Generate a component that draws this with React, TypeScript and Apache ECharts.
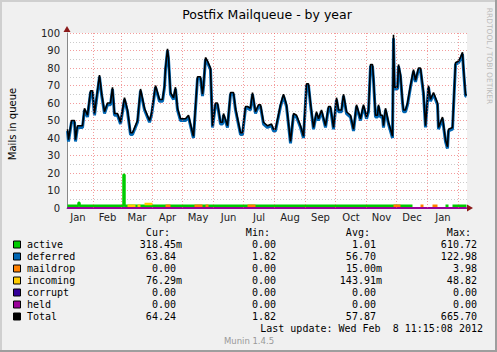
import React, { useEffect, useRef } from "react";
import * as echarts from "echarts";

// ---- data (x = day of year 2011, Jan 1 = 0) ----
const days = [
  5, 6, 9, 12, 13, 15, 20, 22, 25, 28,
  30, 32, 37, 39, 42, 45, 48, 50, 52, 55,
  58, 62, 65, 68, 70, 75, 78, 82, 87, 89,
  93, 97, 100, 102, 103, 105, 106, 108, 111, 113,
  115, 118, 123, 126, 130, 131, 135, 138, 140, 141,
  143, 145, 148, 150, 153, 155, 158, 160, 161, 165,
  168, 171, 173, 178, 180, 183, 185, 188, 190, 193,
  196, 198, 201, 205, 209, 211, 213, 218, 221, 224,
  228, 231, 234, 238, 241, 244, 246, 248, 251, 254,
  256, 259, 263, 266, 268, 271, 274, 276, 279, 281,
  284, 288, 291, 294, 298, 301, 304, 306, 308, 310,
  311, 313, 315, 316, 318, 320, 321, 323, 326, 330,
  331, 332, 335, 336, 338, 340, 341, 343, 345, 348,
  351, 353, 356, 358, 361, 363, 366, 368, 371, 375,
  376, 380, 383, 385, 386, 390, 393, 396, 398, 400,
  401, 403, 404,
];

const totalValues = [
  45, 39, 50, 50, 39, 47, 47, 57, 53, 67,
  67, 54, 76, 66, 55, 60, 60, 69, 54, 54,
  49, 63, 56, 43, 43, 50, 68, 57, 50, 54,
  70, 62, 62, 70, 80, 91, 86, 66, 63, 69,
  57, 51, 51, 53, 43, 41, 75, 75, 65, 70,
  86, 84, 80, 47, 60, 60, 49, 49, 54, 47,
  66, 66, 57, 43, 43, 58, 58, 57, 66, 55,
  59, 59, 49, 47, 48, 45, 45, 59, 65, 59,
  38, 54, 53, 47, 41, 71, 71, 60, 46, 55,
  51, 56, 47, 58, 58, 46, 63, 56, 56, 65,
  55, 53, 45, 59, 51, 59, 52, 56, 82, 82,
  74, 53, 53, 59, 53, 53, 47, 57, 49, 41,
  99, 69, 69, 82, 76, 61, 56, 56, 60, 70,
  79, 73, 80, 80, 66, 47, 70, 62, 66, 60,
  46, 52, 39, 35, 45, 46, 83, 84, 86, 89,
  80, 65, 64.24,
];

const deferredValues = [
  44, 38, 49, 49, 38, 46, 46, 56, 52, 66,
  66, 53, 75, 65, 54, 59, 59, 68, 53, 53,
  48, 62, 55, 42, 42, 49, 67, 56, 49, 53,
  69, 61, 61, 69, 79, 90, 85, 65, 62, 68,
  56, 50, 50, 52, 42, 40, 74, 74, 64, 69,
  85, 83, 79, 46, 59, 59, 48, 48, 53, 46,
  65, 65, 56, 42, 42, 57, 57, 56, 65, 54,
  58, 58, 48, 46, 47, 44, 44, 58, 64, 58,
  37, 53, 52, 46, 40, 70, 70, 59, 45, 54,
  50, 55, 46, 57, 57, 45, 62, 55, 55, 64,
  54, 52, 44, 58, 50, 58, 51, 55, 81, 81,
  73, 52, 52, 58, 52, 52, 46, 56, 48, 40,
  97, 68, 68, 81, 75, 60, 55, 55, 59, 69,
  78, 72, 79, 79, 65, 46, 69, 61, 65, 59,
  45, 51, 38, 34, 44, 45, 82, 83, 85, 88,
  79, 64, 63.84,
];

const activePoints: any[] = [
  [5, 1.3], [16, 1.3], [16, 3], [17, 3], [17, 1.3], [61, 1.3], [61, 19], [62, 19], [62, 1.3],
  [350, 1.3], [351, "-"], [383, 1.3], [386, 1.3], [387, "-"], [390, 1.3], [404, 1.3],
];
const incomingPoints: any[] = [
  [65, 1.3], [73, 1.3], [74, "-"], [75, 1.3], [78, 1.3], [80, "-"], [82, 2.3], [90, 2.3],
];
const maildropPoints: any[] = [
  [103, 1.3], [108, 1.3], [110, "-"], [132, 1.3], [140, 1.3], [141, "-"], [143, 1.3], [146, 1.3],
  [150, "-"], [185, 1.3], [193, 1.3], [200, "-"], [331, 1.3], [338, 1.3], [340, "-"],
  [358, 1.3], [361, 1.3], [365, "-"], [370, 1.3], [375, 1.3],
];
const zeroPoints: any[] = [[5, 0], [404, 0]];

const monthStarts = [31, 59, 90, 120, 151, 181, 212, 243, 273, 304, 334, 365, 396];
const monthLabelDays = [15.5, 45, 74.5, 105, 135.5, 166, 196.5, 227.5, 258, 288.5, 319, 349.5, 380.5];
const monthLabels = ["Jan", "Feb", "Mar", "Apr", "May", "Jun", "Jul", "Aug", "Sep", "Oct", "Nov", "Dec", "Jan"];

// ---- legend ----
const legendNames = ["active", "deferred", "maildrop", "incoming", "corrupt", "held", "Total"];
const legendColors = ["#00CC00", "#0066B3", "#FF8000", "#FFCC00", "#330099", "#990099", "#000000"];
const curValues = ["318.45m", "63.84", "0.00", "76.29m", "0.00", "0.00", "64.24"];
const minValues = ["0.00", "1.82", "0.00", "0.00", "0.00", "0.00", "1.82"];
const avgValues = ["1.01", "56.70", "15.00m", "143.91m", "0.00", "0.00", "57.87"];
const maxValues = ["610.72", "122.98", "3.98", "48.82", "0.00", "0.00", "665.70"];
const headers = ["Cur:", "Min:", "Avg:", "Max:"];

const FONT = '"DejaVu Sans", sans-serif';
const MONO = '"DejaVu Sans Mono", monospace';

export default function App() {
  const ref = useRef<HTMLDivElement>(null);
  useEffect(() => {
    if (!ref.current) return;
    const chart = echarts.init(ref.current, undefined, { renderer: "svg" });

    const pair = (vals: number[]) => days.map((d, i) => [d, vals[i]]);

    const colEnds = [182, 282, 382, 483];
    const CW = 6.02;
    const graphic: any[] = [];
    graphic.push({ type: "rect", shape: { x: 0, y: 0, width: 497, height: 2 }, style: { fill: "#CFCFCF" }, silent: true });
    graphic.push({ type: "rect", shape: { x: 0, y: 0, width: 2, height: 352 }, style: { fill: "#CFCFCF" }, silent: true });
    graphic.push({ type: "rect", shape: { x: 495, y: 0, width: 2, height: 352 }, style: { fill: "#9E9E9E" }, silent: true });
    graphic.push({ type: "rect", shape: { x: 0, y: 350, width: 497, height: 2 }, style: { fill: "#9E9E9E" }, silent: true });
    graphic.push({ type: "text", x: 267, y: 14, style: { text: "Postfix Mailqueue - by year", fill: "#000", fontSize: 12.5, fontFamily: FONT, align: "center", verticalAlign: "middle" } });
    graphic.push({ type: "text", x: 12, y: 124, rotation: Math.PI / 2, style: { text: "Mails in queue", fill: "#000", fontSize: 10, fontFamily: FONT, align: "center", verticalAlign: "middle" } });
    graphic.push({ type: "text", x: 489, y: 56, rotation: -Math.PI / 2, style: { text: "RRDTOOL / TOBI OETIKER", fill: "#BBBBBB", fontSize: 7.5, fontFamily: FONT, align: "center", verticalAlign: "middle" } });
    graphic.push({ type: "polygon", shape: { points: [[63.5, 32], [70.5, 32], [67, 26]] }, style: { fill: "#8B1A1A" }, z: 100 });
    graphic.push({ type: "polygon", shape: { points: [[467, 204.5], [467, 211.5], [473, 208]] }, style: { fill: "#8B1A1A" }, z: 100 });
    headers.forEach((h, j) => {
      graphic.push({ type: "text", x: colEnds[j] - 2 * CW, y: 232, style: { text: h, fill: "#000", fontSize: 10, fontFamily: MONO, align: "right", verticalAlign: "middle" } });
    });
    const cols = [curValues, minValues, avgValues, maxValues];
    legendNames.forEach((n, i) => {
      const y = 244 + 12 * i;
      graphic.push({ type: "rect", shape: { x: 13.5, y: y - 3, width: 7, height: 7 }, style: { fill: legendColors[i], stroke: "#000", lineWidth: 1 } });
      graphic.push({ type: "text", x: 27, y, style: { text: n, fill: "#000", fontSize: 10, fontFamily: MONO, align: "left", verticalAlign: "middle" } });
      cols.forEach((c, j) => {
        const s = c[i];
        const end = s.endsWith("m") ? colEnds[j] : colEnds[j] - CW;
        graphic.push({ type: "text", x: end, y, style: { text: s, fill: "#000", fontSize: 10, fontFamily: MONO, align: "right", verticalAlign: "middle" } });
      });
    });
    graphic.push({ type: "text", x: 483, y: 328, style: { text: "Last update: Wed Feb \u00a08 11:15:08 2012", fill: "#000", fontSize: 10, fontFamily: MONO, align: "right", verticalAlign: "middle" } });
    graphic.push({ type: "text", x: 249, y: 341, style: { text: "Munin 1.4.5", fill: "#999999", fontSize: 8.5, fontFamily: FONT, align: "center", verticalAlign: "middle" } });

    const lineSeries = (name: string, data: any[], color: string, width: number, extra: any = {}) => ({
      name, type: "line", data, showSymbol: false, symbol: "none",
      lineStyle: { color, width }, itemStyle: { color }, connectNulls: false, silent: true, ...extra,
    });

    chart.setOption({
      animation: false,
      backgroundColor: "#F0F0F0",
      grid: { left: 67, right: 30, top: 33, bottom: 144, show: true, backgroundColor: "#FFFFFF", borderWidth: 0 },
      xAxis: {
        type: "value", min: 4.5, max: 404.5,
        axisLine: { show: true, lineStyle: { color: "#888", width: 1 } },
        axisTick: { show: false },
        splitLine: { show: false },
        axisLabel: {
          customValues: monthLabelDays,
          formatter: (v: number) => {
            const k = monthLabelDays.findIndex((d) => Math.abs(d - v) < 0.01);
            return k >= 0 ? monthLabels[k] : "";
          },
          fontSize: 10, fontFamily: FONT, color: "#222", margin: 4,
        },
      },
      yAxis: {
        type: "value", min: 0, max: 100, interval: 10,
        axisLine: { show: true, lineStyle: { color: "#888", width: 1 } },
        axisTick: { show: false },
        axisLabel: { fontSize: 10, fontFamily: FONT, color: "#222", margin: 7 },
        splitLine: { show: true, lineStyle: { color: "rgba(235,90,90,0.6)", type: [1, 2], width: 1 } },
        minorTick: { show: false, splitNumber: 2 },
        minorSplitLine: { show: true, lineStyle: { color: "rgba(140,140,140,0.45)", type: [1, 2], width: 1 } },
      },
      series: [
        {
          name: "grid", type: "line", data: [], silent: true, z: 1,
          markLine: {
            silent: true, symbol: "none", label: { show: false },
            lineStyle: { color: "rgba(235,90,90,0.6)", type: [1, 2], width: 1 },
            data: monthStarts.map((d) => ({ xAxis: d })),
          },
        },
        lineSeries("active", activePoints, "#00CC00", 2.5),
        lineSeries("deferred", pair(deferredValues), "#0066B3", 3),
        lineSeries("maildrop", maildropPoints, "#FF8000", 2.5),
        lineSeries("incoming", incomingPoints, "#FFCC00", 2.5),
        lineSeries("corrupt", zeroPoints, "#330099", 2, { clip: false }),
        lineSeries("held", zeroPoints, "#990099", 2, { clip: false }),
        lineSeries("Total", pair(totalValues), "#000000", 1.6),
      ],
      graphic,
    });
    return () => chart.dispose();
  }, []);

  return <div ref={ref} style={{ position: "fixed", left: 0, top: 0, width: 497, height: 352 }} />;
}
